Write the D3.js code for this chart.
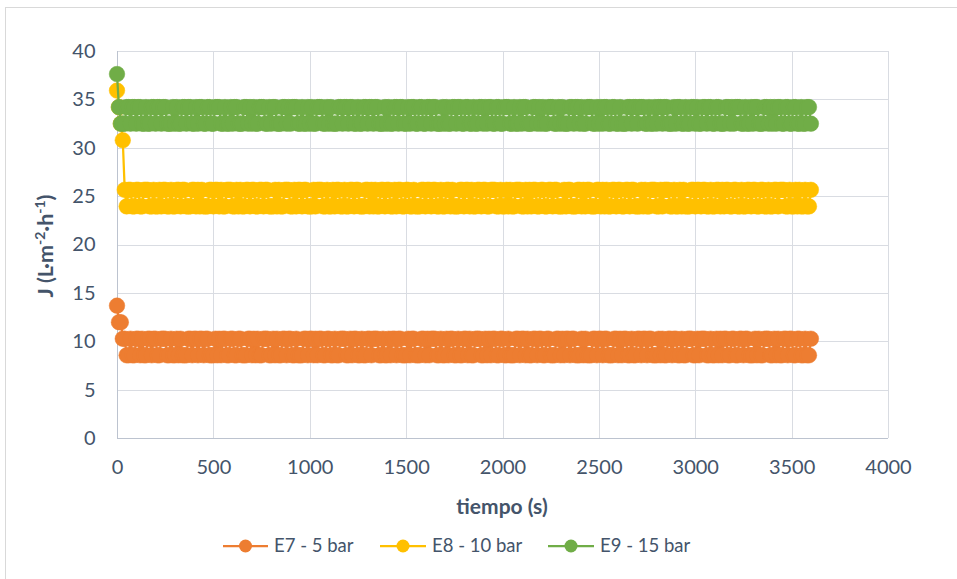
<!DOCTYPE html>
<html>
<head>
<meta charset="utf-8">
<script src="https://cdn.jsdelivr.net/npm/d3@7"></script>
<style>
  html, body { margin: 0; padding: 0; background: #ffffff; }
  svg { display: block; }
  text { font-family: Lato, "Open Sans", sans-serif; fill: #44546a; }
</style>
</head>
<body>
<svg id="chart" width="957" height="579"></svg>
<script>
// Permeate flux J (L·m⁻²·h⁻¹) logged every 10 s over one hour.
const sampleStep = 10; // s
const xTicks = [0, 500, 1000, 1500, 2000, 2500, 3000, 3500, 4000];
const yTicks = [0, 5, 10, 15, 20, 25, 30, 35, 40];

// Start-up readings, then the two flux levels the reading settles between.
// H = upper level, L = lower level.
const e7Start = [13.68, 11.97, 11.97];
const e7Levels = { H: 10.26, L: 8.55 };
const e7Steady = [
  "HHLLHLLHHL","HLLHHLHHLL","HHHLLHLLHL","HLLLHHLHHL","HHLHHLLLHL","HLHHLLHHLL","HHLLLHHLHL","HLLHHHLLHL",
  "HLLHHLHHLL","HLLLHHLHHL","HLHHLLHHLL","HLLHHHLLHL","HHLLHLLHHL","HHHLLHLLHL","HHLHHLLLHL","HHLLLHHLHL",
  "HHHLLHLLHL","HHLLHLLHHL","HLLHHHLLHL","HLHHLLHHLL","HLLLHHLHHL","HLLHHLHHLL","HHLLLHHLHL","HHLHHLLLHL",
  "HLLLHHLHHL","HHLLLHHLHL","HHLLHLLHHL","HHLHHLLLHL","HLLHHLHHLL","HLLHHHLLHL","HHHLLHLLHL","HLHHLLHHLL",
  "HHLHHLLLHL","HLLHHHLLHL","HLLHHLHHLL","HHLLHLLH"
].join("");

const e8Start = [35.91, 34.20, 32.49, 30.78];
const e8Levels = { H: 25.65, L: 23.94 };
const e8Steady = [
  "HLHHLLHHLL","HHHLLHLLHL","HHLLHLLHHL","HHLLLHHLHL","HLLLHHLHHL","HLLHHHLLHL","HLLHHLHHLL","HHLHHLLLHL",
  "HLLHHHLLHL","HHLHHLLLHL","HHHLLHLLHL","HHLLHLLHHL","HHLLLHHLHL","HLLHHLHHLL","HLHHLLHHLL","HLLLHHLHHL",
  "HHLLHLLHHL","HLLLHHLHHL","HLLHHLHHLL","HHHLLHLLHL","HLLHHHLLHL","HLHHLLHHLL","HHLHHLLLHL","HHLLLHHLHL",
  "HHLLLHHLHL","HLLHHLHHLL","HHLHHLLLHL","HLLHHHLLHL","HHHLLHLLHL","HLLLHHLHHL","HHLLHLLHHL","HLHHLLHHLL",
  "HLLHHLHHLL","HHLLHLLHHL","HHHLLHLLHL","HLLHLLH"
].join("");

const e9Start = [37.62];
const e9Levels = { H: 34.20, L: 32.49 };
const e9Steady = [
  "HLLLHHLHHL","HHLLHLLHHL","HHLHHLLLHL","HLLHHLHHLL","HLHHLLHHLL","HHHLLHLLHL","HHLLLHHLHL","HLLHHHLLHL",
  "HHLLLHHLHL","HHHLLHLLHL","HLLHHHLLHL","HLLLHHLHHL","HHLLHLLHHL","HHLHHLLLHL","HLLHHLHHLL","HLHHLLHHLL",
  "HHLHHLLLHL","HLLHHLHHLL","HHLLHLLHHL","HLHHLLHHLL","HHHLLHLLHL","HHLLLHHLHL","HLLHHHLLHL","HLLLHHLHHL",
  "HLLHHHLLHL","HLHHLLHHLL","HLLLHHLHHL","HHHLLHLLHL","HHLHHLLLHL","HHLLHLLHHL","HLLHHLHHLL","HHLLLHHLHL",
  "HHHLLHLLHL","HHLLLHHLHL","HLHHLLHHLL","HHLLHLLHHL"
].join("");

const seriesNames = ["E7 - 5 bar", "E8 - 10 bar", "E9 - 15 bar"];
const seriesColors = ["#ed7d31", "#ffc000", "#70ad47"];

function buildSeries(start, levels, steady) {
  const vals = start.concat(Array.from(steady, c => levels[c]));
  return vals.map((y, i) => ({ t: i * sampleStep, y }));
}
const series = [
  buildSeries(e7Start, e7Levels, e7Steady),
  buildSeries(e8Start, e8Levels, e8Steady),
  buildSeries(e9Start, e9Levels, e9Steady)
];

const svg = d3.select("#chart");

// chart frame
svg.append("rect")
  .attr("x", 5.5).attr("y", 7.5)
  .attr("width", 960).attr("height", 580)
  .attr("fill", "#ffffff")
  .attr("stroke", "#d9d9d9").attr("stroke-width", 1);

const plot = { left: 117, right: 888, top: 51, bottom: 438 };
const x = d3.scaleLinear().domain([0, 4000]).range([plot.left, plot.right]);
const y = d3.scaleLinear().domain([0, 40]).range([plot.bottom, plot.top]);

// gridlines
const grid = svg.append("g");
grid.selectAll("line.h").data(yTicks.filter(d => d > 0)).join("line")
  .attr("x1", plot.left).attr("x2", plot.right)
  .attr("y1", d => Math.round(y(d)) + 0.5).attr("y2", d => Math.round(y(d)) + 0.5)
  .attr("stroke", "#d9dce2").attr("stroke-width", 1);
grid.selectAll("line.v").data(xTicks.filter(d => d > 0)).join("line")
  .attr("y1", plot.top).attr("y2", plot.bottom)
  .attr("x1", d => Math.round(x(d)) + 0.5).attr("x2", d => Math.round(x(d)) + 0.5)
  .attr("stroke", "#d9dce2").attr("stroke-width", 1);

// axes
const xAxis = svg.append("g")
  .attr("transform", `translate(0,${Math.round(y(0)) + 0.5})`)
  .call(d3.axisBottom(x).tickValues(xTicks).tickSize(0).tickPadding(21).tickFormat(d3.format("d")));
const yAxis = svg.append("g")
  .attr("transform", `translate(${Math.round(x(0)) + 0.5},0)`)
  .call(d3.axisLeft(y).tickValues(yTicks).tickSize(0).tickPadding(22).tickFormat(d3.format("d")));
[xAxis, yAxis].forEach(g => {
  g.select(".domain").attr("stroke", "#bcc3cf").attr("stroke-width", 1);
  g.selectAll("text").style("font-size", "20px").attr("fill", "#44546a")
    .style("font-family", "Lato, 'Open Sans', sans-serif");
});
xAxis.select(".domain").attr("d", `M${plot.left},0H${plot.right}`);
yAxis.select(".domain").attr("d", `M0,${plot.top}V${plot.bottom}`);

// axis titles
svg.append("text")
  .attr("x", 502).attr("y", 514)
  .attr("text-anchor", "middle")
  .style("font-size", "21px").style("font-weight", "bold")
  .text("tiempo (s)");

const yTitle = svg.append("text")
  .attr("transform", "translate(53,246) rotate(-90)")
  .attr("text-anchor", "middle")
  .style("font-size", "21.5px").style("font-weight", "bold");
yTitle.append("tspan").text("J (L·m");
yTitle.append("tspan").attr("baseline-shift", "super").style("font-size", "14px").text("-2");
yTitle.append("tspan").text("·h");
yTitle.append("tspan").attr("baseline-shift", "super").style("font-size", "14px").text("-1");
yTitle.append("tspan").text(")");

// series: connecting line first, markers on top
const line = d3.line().x(d => x(d.t)).y(d => y(d.y));
const markerR = 7.8;
series.forEach((data, i) => {
  const g = svg.append("g");
  g.append("path").datum(data)
    .attr("d", line)
    .attr("fill", "none")
    .attr("stroke", seriesColors[i])
    .attr("stroke-width", 2.25)
    .attr("stroke-linejoin", "round");
  g.selectAll("circle").data(data).join("circle")
    .attr("cx", d => x(d.t)).attr("cy", d => y(d.y))
    .attr("r", markerR)
    .attr("fill", seriesColors[i])
    .attr("stroke", seriesColors[i]).attr("stroke-width", 0.5);
});

// legend
const legendItems = [
  { x1: 223, x2: 268, tx: 274 },
  { x1: 380, x2: 426, tx: 432 },
  { x1: 548, x2: 594, tx: 600 }
];
const legendY = 546;
const legend = svg.append("g");
legendItems.forEach((it, i) => {
  legend.append("line")
    .attr("x1", it.x1).attr("x2", it.x2)
    .attr("y1", legendY).attr("y2", legendY)
    .attr("stroke", seriesColors[i]).attr("stroke-width", 2.25);
  legend.append("circle")
    .attr("cx", (it.x1 + it.x2) / 2).attr("cy", legendY)
    .attr("r", 6.5).attr("fill", seriesColors[i]);
  legend.append("text")
    .attr("x", it.tx).attr("y", legendY)
    .attr("dy", "0.35em")
    .style("font-size", "18.5px")
    .text(seriesNames[i]);
});
</script>
</body>
</html>
